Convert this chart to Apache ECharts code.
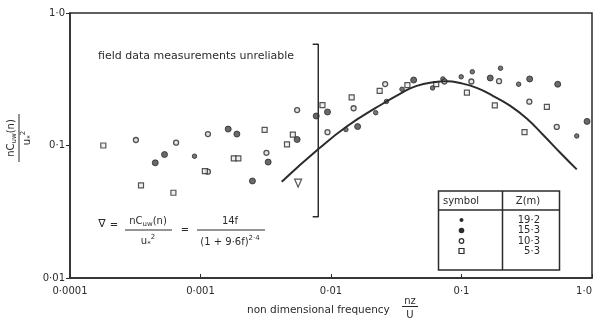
<!DOCTYPE html>
<html>
<head>
<meta charset="utf-8">
<script src="https://cdn.jsdelivr.net/npm/echarts@6/dist/echarts.min.js"></script>
<style>
  html, body { margin: 0; padding: 0; background: #fff; }
  #chart { width: 601px; height: 325px; }
</style>
</head>
<body>
<div id="chart"></div>
<script>
// tick labels
const xTickLabels = ["0·0001", "0·001", "0·01", "0·1", "1·0"];
const yTickLabels = ["0·01", "0·1", "1·0"];

// measured spectra, [nz/U, nCuw(n)/u*^2]
const z192 = [[0.0009, 0.083], [0.013, 0.132], [0.022, 0.177], [0.0266, 0.215], [0.035, 0.266], [0.060, 0.272],
  [0.072, 0.318], [0.0995, 0.33], [0.121, 0.36], [0.199, 0.383], [0.274, 0.29], [0.764, 0.118]];
const z153 = [[0.00163, 0.133], [0.0019, 0.122], [0.00053, 0.0855], [0.00045, 0.074], [0.0033, 0.075], [0.0025, 0.054],
  [0.016, 0.139], [0.043, 0.312], [0.333, 0.318], [0.0094, 0.179], [0.0077, 0.167], [0.0055, 0.111],
  [0.166, 0.323], [0.546, 0.29], [0.916, 0.152]];
const z103 = [[0.00032, 0.11], [0.00065, 0.105], [0.00114, 0.122], [0.0055, 0.185], [0.00114, 0.0635], [0.0032, 0.088],
  [0.0094, 0.126], [0.0149, 0.191], [0.026, 0.291], [0.074, 0.304], [0.119, 0.304], [0.194, 0.306],
  [0.331, 0.214], [0.537, 0.138]];
const z53 = [[0.00018, 0.10], [0.0031, 0.131], [0.0046, 0.102], [0.0051, 0.121], [0.00108, 0.064], [0.00035, 0.050],
  [0.00062, 0.044], [0.0018, 0.080], [0.00195, 0.080], [0.0086, 0.202], [0.0144, 0.231], [0.0236, 0.258],
  [0.0385, 0.286], [0.064, 0.291], [0.11, 0.251], [0.18, 0.201], [0.304, 0.126], [0.451, 0.196]];

// fitted curve
const curve = [[0.00419, 0.0533], [0.00813, 0.0952], [0.0132, 0.139], [0.022, 0.192], [0.0354, 0.252],
  [0.0454, 0.282], [0.0608, 0.300], [0.077, 0.305], [0.0974, 0.296], [0.1308, 0.272], [0.1752, 0.236],
  [0.235, 0.200], [0.316, 0.160], [0.423, 0.120], [0.5685, 0.0885], [0.764, 0.066]];

// "unreliable" bracket and the curve marker
const bracket = [[0.00724, 0.58], [0.00799, 0.58], [0.00799, 0.029], [0.00724, 0.029]];
const marker = [[0.0056, 0.052]];

const INK = "#2b2b2b";
const FONT = "DejaVu Sans";

const chart = echarts.init(document.getElementById("chart"), null, { renderer: "canvas" });

const t = (x, y, text, extra) => ({
  type: "text", x, y,
  style: Object.assign({ text, fill: INK, fontFamily: FONT, fontSize: 10, align: "center", verticalAlign: "middle" }, extra || {})
});
const ln = (x1, y1, x2, y2, w) => ({
  type: "line", shape: { x1, y1, x2, y2 }, style: { stroke: INK, lineWidth: w || 1 }
});
const rich = {
  a: { fontFamily: FONT, fontSize: 10, lineHeight: 14, fill: INK },
  sub: { fontFamily: FONT, fontSize: 7, lineHeight: 7, verticalAlign: "bottom", fill: INK },
  sup: { fontFamily: FONT, fontSize: 7, lineHeight: 7, verticalAlign: "top", fill: INK }
};

const legendRows = [
  { y: 220, label: "19·2", sym: "dot" },
  { y: 230.5, label: "15·3", sym: "big" },
  { y: 241, label: "10·3", sym: "ring" },
  { y: 251, label: "5·3", sym: "square" }
];
const legendSym = (r) => {
  const x = 461.5;
  if (r.sym === "square") return { type: "rect", shape: { x: x - 2.5, y: r.y - 2.5, width: 5, height: 5 }, style: { fill: "#fff", stroke: INK, lineWidth: 1.2 } };
  if (r.sym === "ring") return { type: "circle", shape: { cx: x, cy: r.y, r: 2.3 }, style: { fill: "#fff", stroke: INK, lineWidth: 1.2 } };
  if (r.sym === "big") return { type: "circle", shape: { cx: x, cy: r.y, r: 2.8 }, style: { fill: INK } };
  return { type: "circle", shape: { cx: x, cy: r.y, r: 2 }, style: { fill: INK } };
};

chart.setOption({
  animation: false,
  backgroundColor: "#fff",
  grid: { left: 70, right: 9, top: 13, bottom: 47, show: true, borderColor: INK, borderWidth: 1.5, backgroundColor: "transparent" },
  xAxis: {
    type: "log", logBase: 10, min: 0.0001, max: 1,
    axisLine: { lineStyle: { color: INK, width: 1.5 } },
    axisTick: { inside: true, length: 4, lineStyle: { color: INK } },
    minorTick: { show: false },
    splitLine: { show: false },
    axisLabel: {
      color: INK, fontFamily: FONT, fontSize: 10, margin: 8, alignMaxLabel: "right",
      formatter: (v) => xTickLabels[Math.round(Math.log10(v)) + 4]
    }
  },
  yAxis: {
    type: "log", logBase: 10, min: 0.01, max: 1,
    axisLine: { lineStyle: { color: INK, width: 1.5 } },
    axisTick: { inside: false, length: 4, lineStyle: { color: INK } },
    splitLine: { show: false },
    axisLabel: {
      color: INK, fontFamily: FONT, fontSize: 10, margin: 5,
      formatter: (v) => yTickLabels[Math.round(Math.log10(v)) + 2]
    }
  },
  series: [
    { name: "19·2", type: "scatter", data: z192, symbol: "circle", symbolSize: 4.5,
      itemStyle: { color: "#555", borderColor: INK, borderWidth: 1 } },
    { name: "15·3", type: "scatter", data: z153, symbol: "circle", symbolSize: 6,
      itemStyle: { color: "#444", borderColor: INK, borderWidth: 1 } },
    { name: "10·3", type: "scatter", data: z103, symbol: "circle", symbolSize: 5,
      itemStyle: { color: "#ddd", borderColor: INK, borderWidth: 1.3 } },
    { name: "5·3", type: "scatter", data: z53, symbol: "rect", symbolSize: 5,
      itemStyle: { color: "#eee", borderColor: INK, borderWidth: 1.2 } },
    { name: "curve", type: "line", data: curve, smooth: 0.5, showSymbol: false,
      lineStyle: { color: INK, width: 2 } },
    { name: "bracket", type: "line", data: bracket, showSymbol: false,
      lineStyle: { color: INK, width: 1.5 } },
    { name: "marker", type: "scatter", data: marker, symbol: "triangle", symbolRotate: 180, symbolSize: [7, 8],
      itemStyle: { color: "#fff", borderColor: INK, borderWidth: 1.2 } }
  ],
  graphic: [
    t(98, 56, "field data measurements unreliable", { align: "left", fontSize: 11 }),
    // formula
    t(102, 224, "∇", { fontSize: 11 }),
    t(114, 225, "="),
    t(148, 221, "{a|nC}{sub|uw}{a|(n)}", { rich }),
    ln(125, 230, 172, 230),
    t(148, 241, "{a|u}{sub|*}{sup|2}", { rich }),
    t(185, 230, "="),
    t(230, 221, "14f"),
    ln(197, 230, 265, 230),
    t(230, 242, "{a|(1 + 9·6f)}{sup|2·4}", { rich }),
    // legend table
    { type: "rect", shape: { x: 438.5, y: 191, width: 121, height: 79 }, style: { fill: "#fff", stroke: INK, lineWidth: 1.5 } },
    ln(438.5, 210, 559.5, 210, 1.5),
    ln(502.5, 191, 502.5, 270, 1.5),
    t(461, 201, "symbol"),
    t(528, 201, "Z(m)"),
    ...legendRows.map(legendSym),
    ...legendRows.map((r) => t(540, r.y, r.label, { align: "right" })),
    // x axis name
    t(247, 310, "non dimensional frequency", { align: "left", fontSize: 10.5 }),
    t(410, 301, "nz"),
    ln(402, 306.5, 418, 306.5),
    t(410, 315, "U"),
    // y axis name
    {
      type: "group", x: 19, y: 138, rotation: Math.PI / 2,
      children: [
        t(0, -8, "{a|nC}{sub|uw}{a|(n)}", { rich }),
        ln(-24, 0, 24, 0),
        t(0, 8, "{a|u}{sub|*}{sup|2}", { rich })
      ]
    }
  ]
});
</script>
</body>
</html>
